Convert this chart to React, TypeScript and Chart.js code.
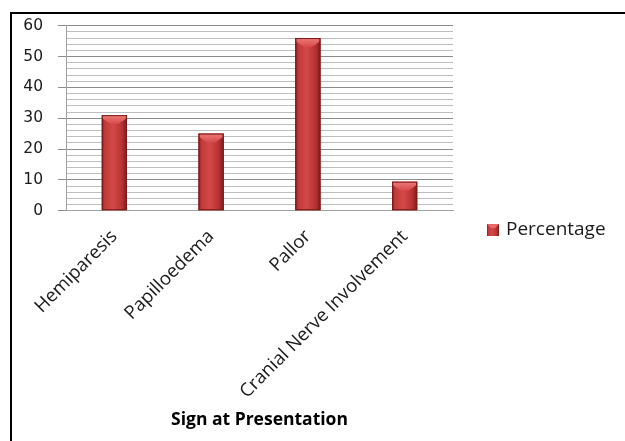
import React, { useEffect, useRef } from "react";
import { Chart, registerables } from "chart.js";

Chart.register(...registerables);

const categories = ["Hemiparesis", "Papilloedema", "Pallor", "Cranial Nerve Involvement"];
const percentages = [31, 25, 56, 9.4];
const seriesLabel = "Percentage";
const axisTitle = "Sign at Presentation";

const W = 625;
const H = 441;

function barGradient(ctx: CanvasRenderingContext2D, left: number, right: number) {
  const g = ctx.createLinearGradient(left, 0, right, 0);
  g.addColorStop(0, "#8a1f1f");
  g.addColorStop(0.12, "#c23a3a");
  g.addColorStop(0.45, "#d44848");
  g.addColorStop(0.8, "#b83232");
  g.addColorStop(1, "#7c1b1b");
  return g;
}

// Paints the shaded face and bevelled cap over each bar, the legend and the frame.
const decorPlugin = {
  id: "decor",
  beforeDraw(chart: any) {
    const { ctx } = chart;
    ctx.save();
    ctx.fillStyle = "#ffffff";
    ctx.fillRect(0, 0, W, H);
    ctx.strokeStyle = "#000000";
    ctx.lineWidth = 2;
    ctx.beginPath();
    ctx.moveTo(11, H);
    ctx.lineTo(11, 13);
    ctx.lineTo(W, 13);
    ctx.stroke();
    ctx.restore();
  },
  afterDatasetsDraw(chart: any) {
    const { ctx } = chart;
    const meta = chart.getDatasetMeta(0);
    ctx.save();
    meta.data.forEach((el: any) => {
      const { x, y, width, base } = el.getProps(["x", "y", "width", "base"], true);
      const left = x - width / 2;
      const right = x + width / 2;
      const h = base - y;
      ctx.fillStyle = barGradient(ctx, left, right);
      ctx.fillRect(left, y, width, h);
      const cap = Math.min(9, h / 2);
      const cg = ctx.createLinearGradient(0, y, 0, y + cap);
      cg.addColorStop(0, "#ee7a7a");
      cg.addColorStop(1, "#d54a4a");
      ctx.fillStyle = cg;
      ctx.beginPath();
      ctx.moveTo(left + 1, y);
      ctx.lineTo(right - 1, y);
      ctx.lineTo(right - 1, y + cap * 0.4);
      ctx.lineTo(x + width * 0.15, y + cap);
      ctx.lineTo(x - width * 0.15, y + cap);
      ctx.lineTo(left + 1, y + cap * 0.4);
      ctx.closePath();
      ctx.fill();
      ctx.strokeStyle = "#7a1a1a";
      ctx.lineWidth = 1;
      ctx.strokeRect(left + 0.5, y + 0.5, width - 1, h - 1);
    });

    // legend
    const lx = 487;
    const ly = 224;
    ctx.fillStyle = barGradient(ctx, lx, lx + 12);
    ctx.fillRect(lx, ly, 12, 12);
    ctx.fillStyle = "#ea6a6a";
    ctx.beginPath();
    ctx.moveTo(lx, ly);
    ctx.lineTo(lx + 12, ly);
    ctx.lineTo(lx + 8, ly + 4);
    ctx.lineTo(lx + 4, ly + 4);
    ctx.closePath();
    ctx.fill();
    ctx.fillStyle = "#1a1a1a";
    ctx.font = "19px 'Open Sans'";
    ctx.textBaseline = "middle";
    ctx.textAlign = "left";
    ctx.fillText(chart.data.datasets[0].label, 506, 230);
    ctx.restore();
  },
};

export default function App() {
  const ref = useRef<HTMLCanvasElement>(null);

  useEffect(() => {
    if (!ref.current) return;
    const chart = new Chart(ref.current, {
      type: "bar",
      data: {
        labels: categories,
        datasets: [
          {
            label: seriesLabel,
            data: percentages,
            backgroundColor: "#c43a3a",
            borderWidth: 0,
            categoryPercentage: 1,
            barPercentage: 0.26,
          },
        ],
      },
      options: {
        animation: false,
        responsive: false,
        devicePixelRatio: 1,
        layout: { padding: { top: 25.7, right: 172, left: 0, bottom: 0 } },
        plugins: {
          legend: { display: false },
          tooltip: { enabled: false },
        },
        scales: {
          x: {
            afterFit: (s: any) => {
              s.height = 230.3;
            },
            grid: { display: false },
            border: { display: true, color: "#a0a0a0", width: 1 },
            ticks: {
              minRotation: 45,
              maxRotation: 45,
              autoSkip: false,
              padding: 7,
              color: "#1a1a1a",
              font: { family: "'Open Sans'", size: 18.5 },
            },
            title: {
              display: true,
              text: axisTitle,
              color: "#000000",
              font: { family: "'Open Sans'", size: 17.5, weight: "bold" },
              padding: { top: 0, bottom: 10 },
            },
          },
          y: {
            min: 0,
            max: 60,
            afterFit: (s: any) => {
              s.width = 66;
            },
            grid: {
              color: (c: any) => (c.tick && c.tick.value % 10 === 0 ? "#8c8c8c" : "#bdbdbd"),
              tickColor: (c: any) => (c.tick && c.tick.value % 10 === 0 ? "#8c8c8c" : "rgba(0,0,0,0)"),
              tickLength: 8,
              lineWidth: 1,
            },
            border: { display: true, color: "#a0a0a0", width: 1 },
            ticks: {
              stepSize: 2,
              autoSkip: false,
              padding: 15,
              color: "#1a1a1a",
              font: { family: "'DejaVu Sans'", size: 15.5 },
              callback: (v: any) => (Number(v) % 10 === 0 ? String(v) : ""),
            },
          },
        },
      },
      plugins: [decorPlugin],
    });
    return () => chart.destroy();
  }, []);

  return (
    <div style={{ position: "fixed", left: 0, top: 0, width: W, height: H, background: "#fff" }}>
      <canvas ref={ref} width={W} height={H} style={{ display: "block" }} />
    </div>
  );
}
